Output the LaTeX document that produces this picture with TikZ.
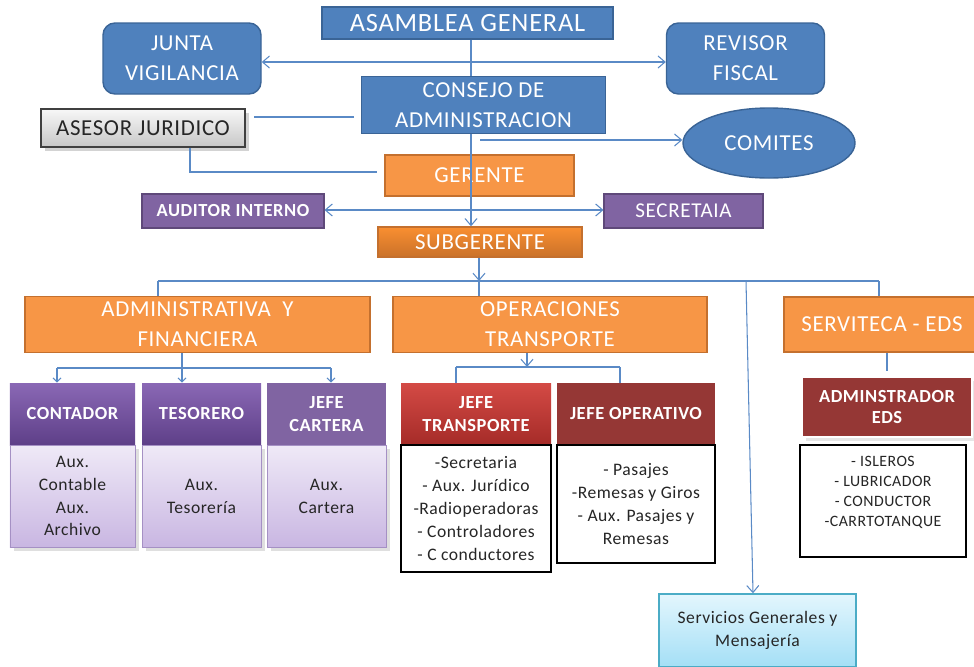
\documentclass[tikz,border=0pt]{standalone}
\usepackage{fontspec}
\setmainfont{Carlito}[LetterSpace=3]
\usetikzlibrary{arrows.meta, shapes.geometric, shadows}

\definecolor{boardblue}{HTML}{4F81BD}
\definecolor{boardedge}{HTML}{3A6496}
\definecolor{officeorange}{HTML}{F79646}
\definecolor{officeedge}{HTML}{C4702E}
\definecolor{staffpurple}{HTML}{8064A2}
\definecolor{staffedge}{HTML}{5F497A}
\definecolor{headtop}{HTML}{8A68B5}
\definecolor{headbottom}{HTML}{5E3F88}
\definecolor{lavtop}{HTML}{EFE9F7}
\definecolor{lavbottom}{HTML}{C9B6E2}
\definecolor{lavedge}{HTML}{A590C4}
\definecolor{redtop}{HTML}{D44A45}
\definecolor{redbottom}{HTML}{A52B28}
\definecolor{darkred}{HTML}{953735}
\definecolor{cyantop}{HTML}{E3F6FD}
\definecolor{cyanbottom}{HTML}{A4DFF6}
\definecolor{cyanedge}{HTML}{4BACC6}
\definecolor{linkblue}{HTML}{5A8AC6}
\definecolor{ink}{HTML}{262626}

\begin{document}
\begin{tikzpicture}[x=0.2mm, y=-0.2mm,
    >={Straight Barb[length=1.4mm, width=2.4mm]},
    board/.style = {rectangle, draw=boardedge, fill=boardblue, line width=0.8pt, text=white,
                    align=center, font=\fontsize{13}{17}\selectfont},
    office/.style = {rectangle, draw=officeedge, fill=officeorange, line width=0.8pt, text=white,
                     align=center, font=\fontsize{13}{17}\selectfont},
    staff/.style = {rectangle, draw=staffedge, fill=staffpurple, line width=0.6pt, text=white,
                    minimum height=6.8mm},
    head/.style = {rectangle, text=white, align=center, minimum height=12.4mm,
                   font=\bfseries\fontsize{10.5}{13}\selectfont},
    duties/.style = {rectangle, align=center, text=ink, font=\fontsize{10}{13}\selectfont},
    lavender/.style = {duties, draw=lavedge, top color=lavtop, bottom color=lavbottom,
                       minimum height=20.4mm, drop shadow={opacity=0.25}},
    framed/.style = {duties, draw=black, fill=white, line width=1.4pt},
    link/.style = {draw=linkblue, line width=0.6pt},
    tip/.style = {-{Straight Barb[length=0.8mm, width=1.6mm]}}]
  \useasboundingbox (0, 0) rectangle (974, 666);

  % Top bodies.
  \node at (467.5, 23) [board, minimum width=58.2mm, minimum height=6.4mm,
                        font=\fontsize{15}{17}\selectfont, name=Asamblea] {ASAMBLEA GENERAL};
  \node at (182, 58.5) [board, rounded corners=2.4mm, minimum width=31.6mm, minimum height=14.2mm,
                        name=Junta] {JUNTA\\VIGILANCIA};
  \node at (745.5, 58.5) [board, rounded corners=2.4mm, minimum width=31.6mm, minimum height=14.2mm,
                          name=Revisor] {REVISOR\\FISCAL};
  \node at (483.5, 105) [board, minimum width=48.8mm, minimum height=11.2mm,
                         name=Consejo] {CONSEJO DE\\ADMINISTRACION};
  \node at (143, 128) [rectangle, draw=black!75, top color=white!97!black, bottom color=black!22,
                       line width=0.8pt, drop shadow={opacity=0.35}, text=ink,
                       minimum width=40.8mm, minimum height=7.6mm,
                       font=\fontsize{13}{16}\selectfont, name=Asesor] {ASESOR JURIDICO};
  \node at (769, 143) [ellipse, draw=boardedge, fill=boardblue, line width=0.8pt, text=white,
                       minimum width=34.4mm, minimum height=14mm,
                       font=\fontsize{13}{16}\selectfont, name=Comites] {COMITES};

  % Management.
  \node at (479.5, 175.5) [office, minimum width=37.8mm, minimum height=8.2mm, name=Gerente] {GERENTE};
  \node at (233, 211) [staff, minimum width=36.4mm, font=\bfseries\fontsize{10.5}{13}\selectfont,
                       name=Auditor] {AUDITOR INTERNO};
  \node at (683.5, 211) [staff, minimum width=31.8mm, font=\fontsize{12}{14}\selectfont,
                         name=Secretaria] {SECRETAIA};
  \node at (480, 242) [office, top color=officeorange!70!orange, bottom color=officeedge!90!orange,
                       minimum width=40.8mm, minimum height=6mm, name=Subgerente] {SUBGERENTE};

  % Areas.
  \node at (197.5, 324.5) [office, minimum width=69mm, minimum height=11mm,
                           name=Administrativa] {ADMINISTRATIVA\ \ Y\\FINANCIERA};
  \node at (550, 324.5) [office, minimum width=62.8mm, minimum height=11mm,
                         name=Operaciones] {OPERACIONES\\TRANSPORTE};
  \node at (882, 324.5) [office, minimum width=39.2mm, minimum height=11mm,
                         name=Serviteca] {SERVITECA - EDS};

  % Heads and their staff.
  \node at (72.5, 414) [head, top color=headtop, bottom color=headbottom, minimum width=25mm,
                        name=Contador] {CONTADOR};
  \node at (201.5, 414) [head, top color=headtop, bottom color=headbottom, minimum width=23.8mm,
                         name=Tesorero] {TESORERO};
  \node at (326.5, 414) [head, fill=staffpurple, minimum width=23.8mm,
                         name=Cartera] {JEFE\\CARTERA};
  \node at (72.5, 496) [lavender, minimum width=25mm, name=ContadorStaff] {Aux.\\Contable\\Aux.\\Archivo};
  \node at (201.5, 496) [lavender, minimum width=23.8mm, name=TesoreroStaff] {Aux.\\Tesorería};
  \node at (326.5, 496) [lavender, minimum width=23.8mm, name=CarteraStaff] {Aux.\\Cartera};

  \node at (476, 414) [head, top color=redtop, bottom color=redbottom, minimum width=30mm,
                       name=JefeTransporte] {JEFE\\TRANSPORTE};
  \node at (636, 414) [head, fill=darkred, minimum width=31.6mm,
                       name=JefeOperativo] {JEFE OPERATIVO};
  \node at (476, 508.5) [framed, minimum width=30mm, minimum height=25.4mm,
                         name=TransporteStaff]
        {-Secretaria\\- Aux. Jurídico\\-Radioperadoras\\- Controladores\\- C conductores};
  \node at (636, 504) [framed, minimum width=31.6mm, minimum height=23.6mm,
                       name=OperativoStaff]
        {- Pasajes\\-Remesas y Giros\\- Aux. Pasajes y\\Remesas};

  \node at (887, 407) [head, fill=darkred, draw=white, line width=1.5pt, drop shadow={opacity=0.2},
                       minimum width=34mm, minimum height=12mm,
                       font=\bfseries\fontsize{10.5}{12.5}\selectfont,
                       name=Adminstrador] {ADMINSTRADOR\\EDS};
  \node at (883, 501) [framed, minimum width=33.2mm, minimum height=22.4mm,
                       font=\fontsize{9}{11.4}\selectfont, name=EdsStaff]
        {- ISLEROS\\- LUBRICADOR\\- CONDUCTOR\\-CARRTOTANQUE\\~};

  \node at (757.5, 630.5) [duties, draw=cyanedge, top color=cyantop, bottom color=cyanbottom,
                           line width=0.8pt, minimum width=39.4mm, minimum height=14.6mm,
                           name=Servicios] {Servicios Generales y\\Mensajería};

  % Branch points.
  \coordinate (trunk) at (471, 0);
  \coordinate (boardline) at (471, 62);
  \coordinate (legal) at (354, 117);
  \coordinate (legalturn) at (190, 172);
  \coordinate (committee) at (480, 140);
  \coordinate (staffline) at (471, 210);
  \coordinate (bus) at (479, 281);
  \coordinate (busWest) at (158, 281);
  \coordinate (busEast) at (879, 281);
  \coordinate (errands) at (746, 281);
  \coordinate (adminbus) at (182, 368);
  \coordinate (adminWest) at (57, 368);
  \coordinate (adminEast) at (331, 368);
  \coordinate (opsbus) at (527, 367);
  \coordinate (opsWest) at (456, 367);
  \coordinate (opsEast) at (620, 367);
  \coordinate (edslink) at (887, 0);

  % Lines of authority.
  \draw [link] (Asamblea.south -| trunk)
               to (Consejo.north -| trunk);
  \draw [link, ->] (Consejo.south -| trunk)
                   to (Subgerente.north -| trunk);
  \draw [link, ->] (boardline)
                   to (boardline -| Junta.east);
  \draw [link, ->] (boardline)
                   to (boardline -| Revisor.west);
  \draw [link, shorten >=1.6mm] (legal)
                   to (legal -| Asesor.east);
  \draw [link, shorten >=1.4mm] (Asesor.south -| legalturn)
                   |- (legalturn -| Gerente.west);
  \draw [link, ->] (committee)
                   to (committee -| Comites.west);
  \draw [link, ->] (staffline)
                   to (staffline -| Auditor.east);
  \draw [link, ->] (staffline)
                   to (staffline -| Secretaria.west);

  % Areas.
  \draw [link, ->] (Subgerente.south -| bus)
                   to (bus);
  \draw [link] (busWest)
               to (busEast);
  \draw [link] (busWest)
               to (busWest |- Administrativa.north);
  \draw [link] (bus)
               to (bus |- Operaciones.north);
  \draw [link] (busEast)
               to (busEast |- Serviteca.north);
  \draw [link, ->] (errands)
                   to ([xshift=-0.9mm]Servicios.north);

  % Heads.
  \draw [link] (Administrativa.south -| adminbus)
               to (adminbus);
  \draw [link] (adminWest)
               to (adminEast);
  \draw [link, tip] (adminWest)
                    to (adminWest |- Contador.north);
  \draw [link, tip] (adminbus)
                    to (adminbus |- Tesorero.north);
  \draw [link, tip] (adminEast)
                    to (adminEast |- Cartera.north);
  \draw [link, ->] (Operaciones.south -| opsbus)
                   to (opsbus);
  \draw [link] (opsWest)
               to (opsEast);
  \draw [link] (opsWest)
               to (opsWest |- JefeTransporte.north);
  \draw [link] (opsEast)
               to (opsEast |- JefeOperativo.north);
  \draw [link, shorten >=1mm] (Serviteca.south -| edslink)
                              to (Adminstrador.north);
\end{tikzpicture}
\end{document}
